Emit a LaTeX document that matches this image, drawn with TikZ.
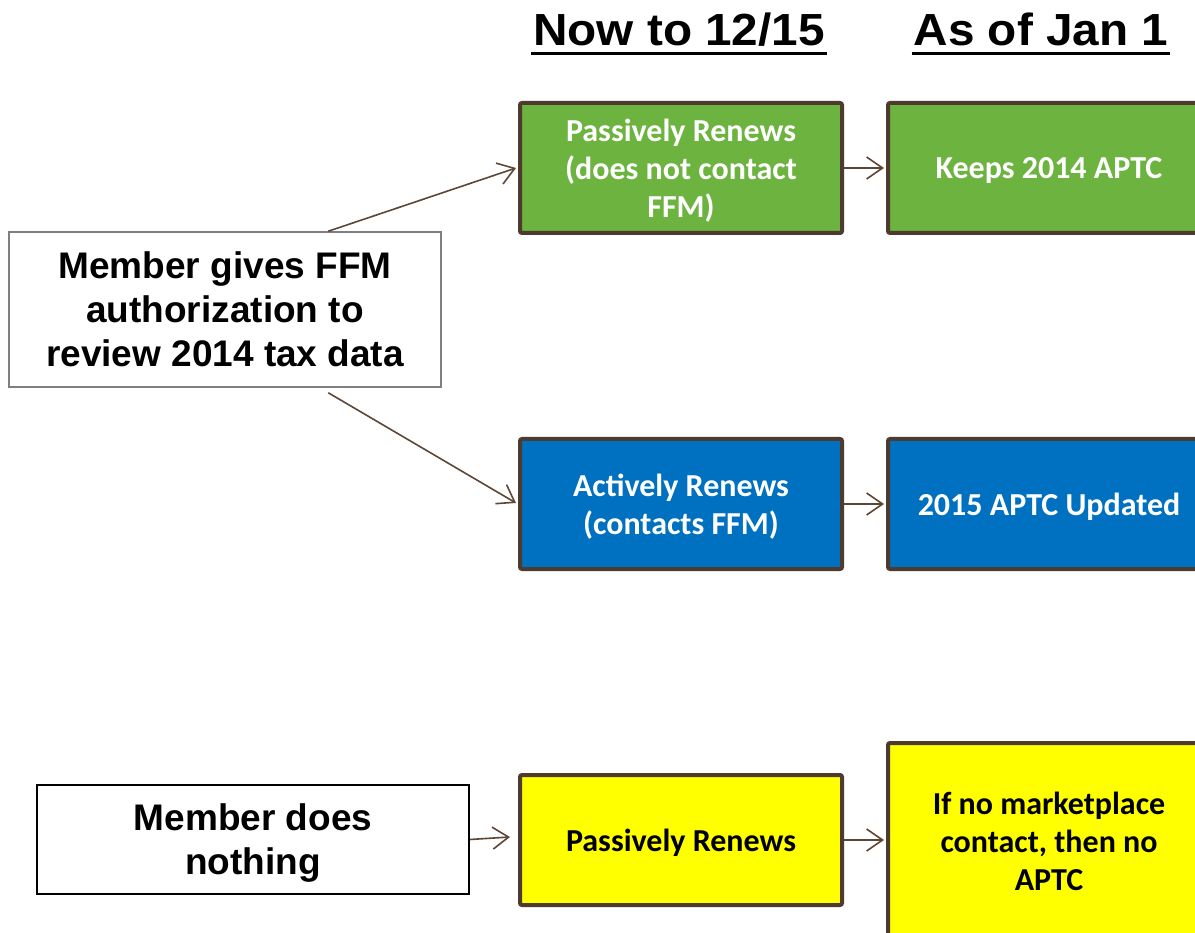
\documentclass[tikz,border=0pt]{standalone}
\usepackage{fontspec}
\setmainfont{Liberation Sans}
\newfontfamily\calfont{Carlito}
\usetikzlibrary{arrows.meta,calc}
\definecolor{boxgreen}{HTML}{6DB33F}
\definecolor{boxblue}{HTML}{0070C0}
\definecolor{boxyellow}{HTML}{FFFF00}
\definecolor{boxborder}{HTML}{4E3B2F}
\definecolor{arrowbrown}{HTML}{5E4636}
\definecolor{graybd}{HTML}{7F7F7F}
\tikzset{
  x=1pt, y=-1pt,
  stepbox/.style={draw=boxborder, line width=4pt, rounded corners=2pt, minimum width=322pt, minimum height=130pt, inner sep=0pt, text depth=0pt, align=center, font=\calfont\bfseries\fontsize{32}{38}\selectfont},
  memberbox/.style={draw, fill=white, minimum width=432pt, inner sep=0pt, text depth=0pt, align=center, font=\bfseries\fontsize{37}{44}\selectfont},
  header/.style={anchor=base, inner sep=0pt, font=\bfseries\fontsize{45}{52}\selectfont},
  flow/.style={draw=arrowbrown, line width=1.6pt, -{Straight Barb[length=16pt,width=22pt,line width=1.6pt]}},
}
\begin{document}
\begin{tikzpicture}
\clip (0,0) rectangle (1195,933);
\fill[white] (0,0) rectangle (1195,933);
% headers
\node[header] (h1) at (679,46) {\scalebox{1.06}[1]{Now to 12/15}};
\node[header] (h2) at (1041,46) {\scalebox{1.06}[1]{As of Jan 1}};
\draw[line width=3pt] ($(h1.base west)+(-2,8)$) -- ($(h1.base east)+(2,8)$);
\draw[line width=3pt] ($(h2.base west)+(-2,8)$) -- ($(h2.base east)+(2,8)$);
% member boxes
\node[memberbox, draw=graybd, line width=1.5pt, minimum height=155pt] (m1) at (225,309.5) {Member gives FFM\\authorization to\\review 2014 tax data};
\node[memberbox, draw=black, line width=2pt, minimum height=109pt] (m2) at (253,839.5) {Member does\\nothing};
% step boxes
\node[stepbox, fill=boxgreen, text=white] (g1) at (681,168) {Passively Renews\\(does not contact\\FFM)};
\node[stepbox, fill=boxgreen, text=white] (g2) at (1049,168) {Keeps 2014 APTC};
\node[stepbox, fill=boxblue, text=white] (b1) at (681,504) {Actively Renews\\(contacts FFM)};
\node[stepbox, fill=boxblue, text=white] (b2) at (1049,504) {2015 APTC Updated};
\node[stepbox, fill=boxyellow, text=black] (y1) at (681,840) {Passively Renews};
\node[stepbox, fill=boxyellow, text=black, minimum height=196pt] (y2) at (1049,841) {If no marketplace\\contact, then no\\APTC};
% connectors
\draw[flow] ($(m1.north west)+(320,0)$) -- ($(g1.west)+(-2,0)$);
\draw[flow] ($(m1.south west)+(320,5)$) -- ($(b1.west)+(-2,-1)$);
\draw[flow] (g1.east) -- ($(g2.west)+(-2,0)$);
\draw[flow] (b1.east) -- ($(b2.west)+(-2,0)$);
\draw[flow] (m2.east) -- ($(y1.west)+(-8,-3)$);
\draw[flow] (y1.east) -- ($(y2.west)+(-2,-1)$);
\end{tikzpicture}
\end{document}
